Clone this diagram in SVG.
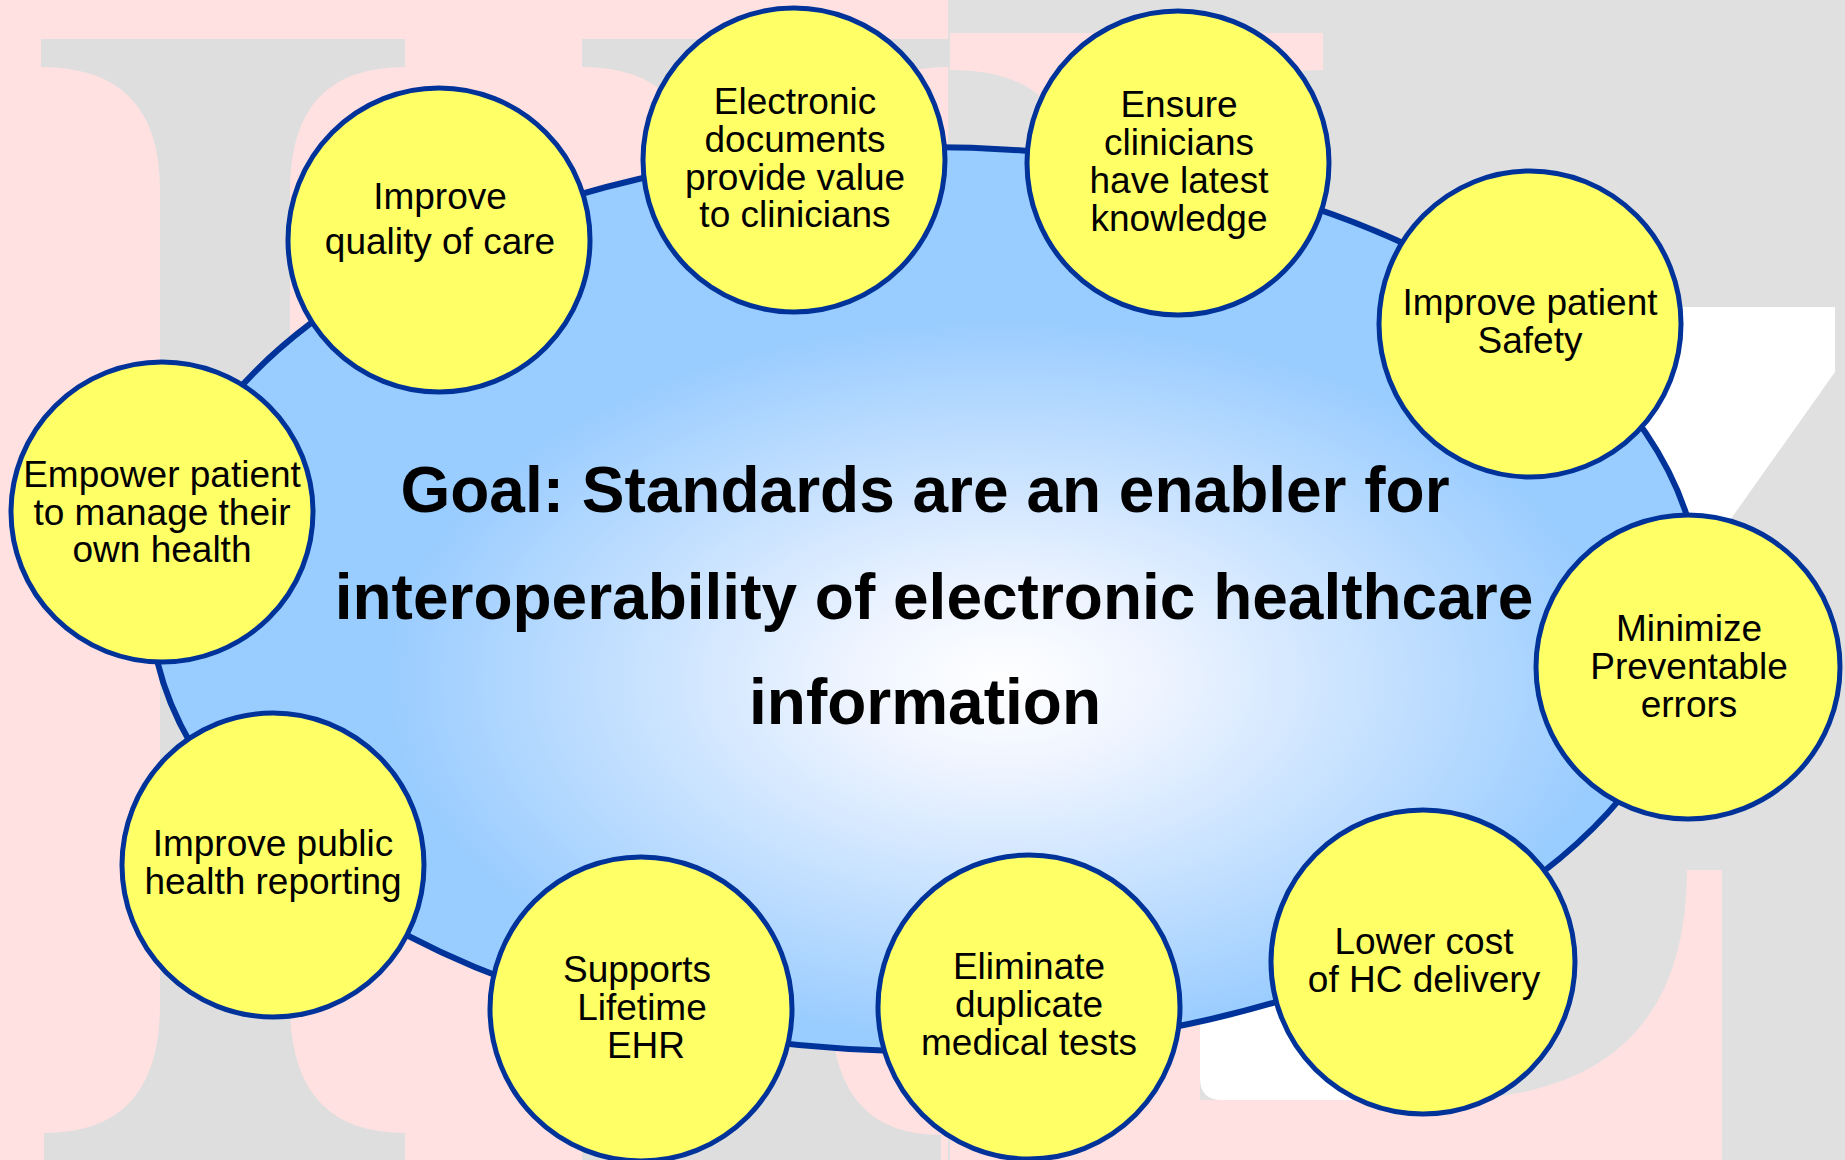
<svg xmlns="http://www.w3.org/2000/svg" width="1845" height="1160" viewBox="0 0 1845 1160">
<style>
.bub{fill:#FFFF66;stroke:#003399;stroke-width:5}
.lbl{font-family:"Liberation Sans",Arial,sans-serif;font-size:37px;fill:#000;text-anchor:middle}
.goal{font-family:"Liberation Sans",Arial,sans-serif;font-size:64px;font-weight:bold;fill:#000;text-anchor:middle}
.wmg{fill:#DEDEDE}
.wmp{fill:#FFE1E1}
</style>
<defs>
<radialGradient id="blueGrad" cx="0.55" cy="0.59" r="0.5">
<stop offset="0" stop-color="#FFFFFF"/>
<stop offset="0.2" stop-color="#EEF4FF"/>
<stop offset="0.8" stop-color="#99CCFF"/>
<stop offset="1" stop-color="#99CCFF"/>
</radialGradient>
</defs>
<g id="background">
<rect x="0" y="0" width="948" height="1160" fill="#FFE1E1"/>
<rect x="948" y="0" width="897" height="1160" fill="#E0E0E0"/>
<path class="wmg" d="M41,39 H405 V67 Q290,67 290,190 V1005 Q290,1133 405,1133 V1160 H44 V1133 Q160,1133 160,1005 V190 Q160,67 41,67 Z"/>
<path class="wmg" d="M582,39 H948 V67 Q831,67 831,190 V1005 Q831,1135 941,1135 V1160 H582 V1135 Q699,1135 699,1005 V190 Q699,67 582,67 Z"/>
<path class="wmp" d="M950,33 H1323 V70 Q1200,70 1200,170 V1100 H1440 Q1687,1100 1687,870 H1722 V1160 H950 V1100 Q1068,1100 1068,1000 V170 Q1068,70 950,70 Z"/>
<path fill="#FFFFFF" d="M1200,960 H1420 V1100 H1222 Q1200,1100 1200,1078 Z"/>
<polygon fill="#FFFFFF" points="1400,307 1835,307 1835,372 1560,760 1450,760 1400,600"/>
</g>
<g id="connectors"/>
<g id="goal">
<ellipse cx="925" cy="599" rx="775" ry="452" fill="url(#blueGrad)" stroke="#003399" stroke-width="6"/>
<text class="goal" x="925" y="512">Goal: Standards are an enabler for</text>
<text class="goal" x="934" y="619">interoperability of electronic healthcare</text>
<text class="goal" x="925" y="724">information</text>
</g>
<g id="node-quality">
<ellipse class="bub" cx="439" cy="240" rx="151" ry="152"/>
<text class="lbl" x="440" y="209">Improve</text>
<text class="lbl" x="440" y="254">quality of care</text>
</g>
<g id="node-electronic">
<ellipse class="bub" cx="794" cy="160" rx="151" ry="152"/>
<text class="lbl" x="795" y="114">Electronic</text>
<text class="lbl" x="795" y="152">documents</text>
<text class="lbl" x="795" y="190">provide value</text>
<text class="lbl" x="795" y="227">to clinicians</text>
</g>
<g id="node-ensure">
<ellipse class="bub" cx="1178" cy="163" rx="151" ry="152"/>
<text class="lbl" x="1179" y="117">Ensure</text>
<text class="lbl" x="1179" y="155">clinicians</text>
<text class="lbl" x="1179" y="193">have latest</text>
<text class="lbl" x="1179" y="231">knowledge</text>
</g>
<g id="node-safety">
<ellipse class="bub" cx="1530" cy="324" rx="151" ry="153"/>
<text class="lbl" x="1530" y="315">Improve patient</text>
<text class="lbl" x="1530" y="353">Safety</text>
</g>
<g id="node-errors">
<ellipse class="bub" cx="1688" cy="667" rx="152" ry="152"/>
<text class="lbl" x="1689" y="641">Minimize</text>
<text class="lbl" x="1689" y="679">Preventable</text>
<text class="lbl" x="1689" y="717">errors</text>
</g>
<g id="node-cost">
<ellipse class="bub" cx="1423" cy="962" rx="152" ry="152"/>
<text class="lbl" x="1424" y="954">Lower cost</text>
<text class="lbl" x="1424" y="992">of HC delivery</text>
</g>
<g id="node-tests">
<ellipse class="bub" cx="1029" cy="1007" rx="151" ry="152"/>
<text class="lbl" x="1029" y="979">Eliminate</text>
<text class="lbl" x="1029" y="1017">duplicate</text>
<text class="lbl" x="1029" y="1055">medical tests</text>
</g>
<g id="node-ehr">
<ellipse class="bub" cx="641" cy="1009" rx="151" ry="152"/>
<text class="lbl" x="637" y="982">Supports</text>
<text class="lbl" x="642" y="1020">Lifetime</text>
<text class="lbl" x="646" y="1058">EHR</text>
</g>
<g id="node-public">
<ellipse class="bub" cx="273" cy="865" rx="151" ry="152"/>
<text class="lbl" x="273" y="856">Improve public</text>
<text class="lbl" x="273" y="894">health reporting</text>
</g>
<g id="node-empower">
<ellipse class="bub" cx="162" cy="512" rx="151" ry="150"/>
<text class="lbl" x="162" y="487">Empower patient</text>
<text class="lbl" x="162" y="525">to manage their</text>
<text class="lbl" x="162" y="562">own health</text>
</g>
</svg>
